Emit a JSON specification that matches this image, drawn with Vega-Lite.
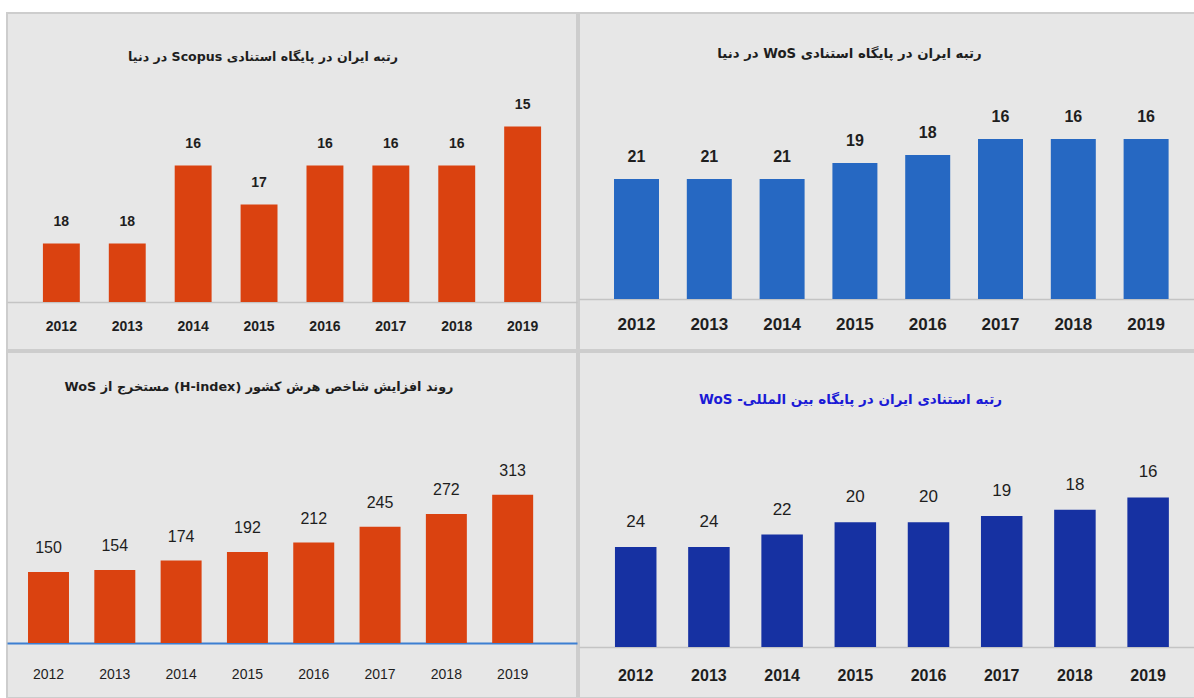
{
  "$schema": "https://vega.github.io/schema/vega-lite/v6.json",
  "background": "white",
  "padding": {"left": 6, "top": 12, "right": 0, "bottom": 0},
  "config": {"concat": {"spacing": 0}, "view": {"fill": "#e7e7e7", "stroke": "#cdcdcd", "strokeWidth": 2}},
  "datasets": {
    "scopus": [
      {"year": "2012", "rank": 18}, {"year": "2013", "rank": 18}, {"year": "2014", "rank": 16}, {"year": "2015", "rank": 17},
      {"year": "2016", "rank": 16}, {"year": "2017", "rank": 16}, {"year": "2018", "rank": 16}, {"year": "2019", "rank": 15}
    ],
    "wos": [
      {"year": "2012", "rank": 21}, {"year": "2013", "rank": 21}, {"year": "2014", "rank": 21}, {"year": "2015", "rank": 19},
      {"year": "2016", "rank": 18}, {"year": "2017", "rank": 16}, {"year": "2018", "rank": 16}, {"year": "2019", "rank": 16}
    ],
    "hindex": [
      {"year": "2012", "h": 150}, {"year": "2013", "h": 154}, {"year": "2014", "h": 174}, {"year": "2015", "h": 192},
      {"year": "2016", "h": 212}, {"year": "2017", "h": 245}, {"year": "2018", "h": 272}, {"year": "2019", "h": 313}
    ],
    "wosintl": [
      {"year": "2012", "rank": 24}, {"year": "2013", "rank": 24}, {"year": "2014", "rank": 22}, {"year": "2015", "rank": 20},
      {"year": "2016", "rank": 20}, {"year": "2017", "rank": 19}, {"year": "2018", "rank": 18}, {"year": "2019", "rank": 16}
    ]
  },
  "vconcat": [
    {
      "hconcat": [
        {
          "width": 570, "height": 337,
          "data": {"name": "scopus"},
          "title": {"text": "\u202bرتبه ایران  در پایگاه استنادی Scopus در دنیا\u202c", "offset": -57, "baseline": "middle", "dx": -29, "font": "DejaVu Sans", "fontSize": 12.6, "fontWeight": "bold", "color": "#1e1e1e"},
          "encoding": {
            "x": {"field": "year", "type": "ordinal", "scale": {"paddingInner": 0.44, "paddingOuter": 0.545, "align": 0.5},
              "axis": {"title": null, "labelAngle": 0, "ticks": false, "grid": false, "offset": -48, "labelPadding": 17, "domainColor": "#c4c4c4", "domainWidth": 1.5, "labelFont": "Liberation Sans", "labelFontSize": 14, "labelFontWeight": "bold", "labelColor": "#1e1e1e"}},
            "y": {"field": "rank", "type": "quantitative", "scale": {"domain": [20.731, 12.09], "nice": false, "zero": false}, "axis": null}
          },
          "layer": [
            {"mark": {"type": "bar", "color": "#da4210"}, "encoding": {"y2": {"datum": 19.5}}},
            {"mark": {"type": "text", "baseline": "alphabetic", "dy": -17, "font": "Liberation Sans", "fontSize": 14, "fontWeight": "bold", "color": "#1e1e1e"}, "encoding": {"text": {"field": "rank"}}}
          ]
        },
        {
          "width": 617, "height": 337,
          "data": {"name": "wos"},
          "title": {"text": "\u202bرتبه ایران  در پایگاه استنادی WoS در دنیا\u202c", "offset": -54, "baseline": "middle", "dx": -38, "font": "DejaVu Sans", "fontSize": 13.3, "fontWeight": "bold", "color": "#1e1e1e"},
          "encoding": {
            "x": {"field": "year", "type": "ordinal", "scale": {"paddingInner": 0.382, "paddingOuter": 0.4286, "align": 0.561},
              "axis": {"title": null, "labelAngle": 0, "ticks": false, "grid": false, "offset": -51, "labelPadding": 17.5, "domainColor": "#c4c4c4", "domainWidth": 1.5, "labelFont": "Liberation Sans", "labelFontSize": 17, "labelFontWeight": "bold", "labelColor": "#1e1e1e"}},
            "y": {"field": "rank", "type": "quantitative", "scale": {"domain": [42.375, 0.25], "nice": false, "zero": false}, "axis": null}
          },
          "layer": [
            {"mark": {"type": "bar", "color": "#2668c2"}, "encoding": {"y2": {"datum": 36}}},
            {"mark": {"type": "text", "baseline": "alphabetic", "dy": -17, "font": "Liberation Sans", "fontSize": 16, "fontWeight": "bold", "color": "#1e1e1e"}, "encoding": {"text": {"field": "rank"}}}
          ]
        }
      ]
    },
    {
      "hconcat": [
        {
          "width": 570, "height": 346,
          "data": {"name": "hindex"},
          "title": {"text": "\u202bروند افزایش شاخص هرش کشور (H-index) مستخرج از WoS\u202c", "offset": -48, "baseline": "middle", "dx": -33, "font": "DejaVu Sans", "fontSize": 12.8, "fontWeight": "bold", "color": "#1e1e1e"},
          "encoding": {
            "x": {"field": "year", "type": "ordinal", "scale": {"paddingInner": 0.382, "paddingOuter": 0.489, "align": 0.324},
              "axis": {"title": null, "labelAngle": 0, "ticks": false, "grid": false, "offset": -55, "labelPadding": 24.5, "domainColor": "#3c7fd2", "domainWidth": 2, "labelFont": "Liberation Sans", "labelFontSize": 14, "labelFontWeight": "normal", "labelColor": "#1e1e1e"}},
            "y": {"field": "h", "type": "quantitative", "scale": {"domain": [-116, 613.9], "nice": false, "zero": false}, "axis": null}
          },
          "layer": [
            {"mark": {"type": "bar", "color": "#da4210"}, "encoding": {"y2": {"datum": 0}}},
            {"mark": {"type": "text", "baseline": "alphabetic", "dy": -19, "font": "Liberation Sans", "fontSize": 16, "fontWeight": "normal", "color": "#1e1e1e"}, "encoding": {"text": {"field": "h"}}}
          ]
        },
        {
          "width": 617, "height": 346,
          "data": {"name": "wosintl"},
          "title": {"text": "\u202bرتبه استنادی ایران در پایگاه بین المللی- WoS\u202c", "offset": -61, "baseline": "middle", "dx": -37, "font": "DejaVu Sans", "fontSize": 13.5, "fontWeight": "bold", "color": "#1a1ad6"},
          "encoding": {
            "x": {"field": "year", "type": "ordinal", "scale": {"paddingInner": 0.433, "paddingOuter": 0.431, "align": 0.57},
              "axis": {"title": null, "labelAngle": 0, "ticks": false, "grid": false, "offset": -51, "labelPadding": 20, "domainColor": "#c4c4c4", "domainWidth": 1.5, "labelFont": "Liberation Sans", "labelFontSize": 16, "labelFontWeight": "bold", "labelColor": "#1e1e1e"}},
            "y": {"field": "rank", "type": "quantitative", "scale": {"domain": [48.36, -7.45], "nice": false, "zero": false}, "axis": null}
          },
          "layer": [
            {"mark": {"type": "bar", "color": "#1631a2"}, "encoding": {"y2": {"datum": 40.13}}},
            {"mark": {"type": "text", "baseline": "alphabetic", "dy": -20, "font": "Liberation Sans", "fontSize": 17, "fontWeight": "normal", "color": "#1e1e1e"}, "encoding": {"text": {"field": "rank"}}}
          ]
        }
      ]
    }
  ]
}
